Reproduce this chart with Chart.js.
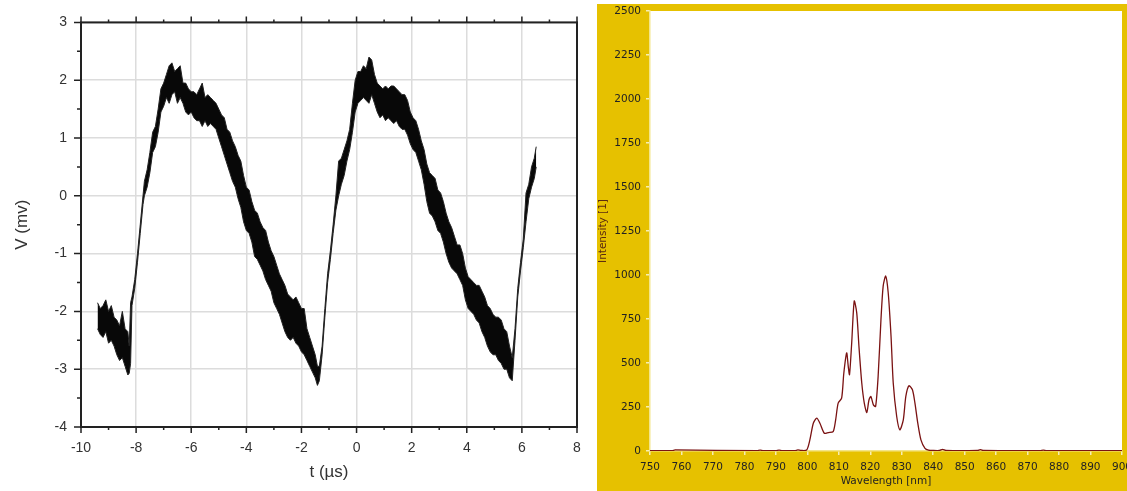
<!DOCTYPE html>
<html>
<head>
<meta charset="utf-8">
<script src="https://cdn.jsdelivr.net/npm/chart.js@4.4.1/dist/chart.umd.min.js"></script>
<style>
  html, body { margin: 0; padding: 0; background: #fff; }
  #left { position: absolute; left: 0; top: 0; }
  #right { position: absolute; left: 597px; top: 4px; background: #e6c100; }
</style>
</head>
<body>
<div id="left"><canvas id="osc" width="595" height="491"></canvas></div>
<div id="right"><canvas id="spec" width="530" height="487"></canvas></div>
<script>
// left panel: scope trace, noise band read as upper / lower envelope
const tTrace = [
  -9.4, -9.3, -9.2, -9.1, -9.0, -8.9, -8.8, -8.7, -8.6, -8.5,
  -8.4, -8.3, -8.25, -8.2, -8.15, -8.05, -7.95, -7.85, -7.75, -7.7,
  -7.6, -7.5, -7.4, -7.3, -7.2, -7.1, -7.0, -6.9, -6.8, -6.7,
  -6.6, -6.5, -6.4, -6.3, -6.2, -6.1, -6.0, -5.9, -5.8, -5.7,
  -5.6, -5.5, -5.4, -5.3, -5.2, -5.1, -5.0, -4.9, -4.8, -4.7,
  -4.6, -4.5, -4.4, -4.3, -4.2, -4.1, -4.0, -3.9, -3.8, -3.7,
  -3.6, -3.5, -3.4, -3.3, -3.2, -3.1, -3.0, -2.9, -2.8, -2.7,
  -2.6, -2.5, -2.4, -2.3, -2.2, -2.1, -2.0, -1.9, -1.8, -1.7,
  -1.6, -1.5, -1.42, -1.35, -1.25, -1.15, -1.05, -0.95, -0.85, -0.75,
  -0.65, -0.55, -0.45, -0.35, -0.25, -0.15, -0.05, 0.05, 0.15, 0.25,
  0.35, 0.45, 0.55, 0.65, 0.75, 0.85, 0.95, 1.05, 1.15, 1.25,
  1.35, 1.45, 1.55, 1.65, 1.75, 1.85, 1.95, 2.05, 2.15, 2.25,
  2.35, 2.45, 2.55, 2.65, 2.75, 2.85, 2.95, 3.05, 3.15, 3.25,
  3.35, 3.45, 3.55, 3.65, 3.75, 3.85, 3.95, 4.05, 4.15, 4.25,
  4.35, 4.45, 4.55, 4.65, 4.75, 4.85, 4.95, 5.05, 5.15, 5.25,
  5.35, 5.45, 5.55, 5.65, 5.75, 5.85, 5.95, 6.05, 6.15, 6.25,
  6.35, 6.45, 6.52
];
const vUpper = [
  -1.85, -1.95, -1.9, -1.8, -2.0, -1.9, -2.1, -2.15, -2.25, -2.0,
  -2.3, -2.35, -2.6, -1.85, -1.75, -1.45, -1.0, -0.5, 0.0, 0.25,
  0.45, 0.75, 1.1, 1.2, 1.5, 1.85, 1.95, 2.1, 2.25, 2.3,
  2.15, 2.2, 2.25, 1.95, 1.95, 1.85, 1.8, 1.8, 1.75, 1.85,
  1.95, 1.7, 1.75, 1.7, 1.65, 1.6, 1.5, 1.4, 1.35, 1.15,
  1.1, 0.95, 0.85, 0.7, 0.6, 0.35, 0.15, 0.1, -0.1, -0.25,
  -0.3, -0.45, -0.55, -0.6, -0.8, -0.95, -1.05, -1.2, -1.35, -1.45,
  -1.55, -1.7, -1.75, -1.8, -1.75, -1.85, -1.95, -1.95, -2.3, -2.45,
  -2.6, -2.75, -2.95, -2.95, -2.6, -1.95, -1.35, -0.95, -0.5, 0.0,
  0.6, 0.65, 0.8, 0.95, 1.15, 1.6, 2.0, 2.15, 2.15, 2.25,
  2.2, 2.4, 2.35, 2.1, 1.95, 1.9, 1.85, 1.9, 1.85, 1.9,
  1.9, 1.85, 1.8, 1.75, 1.75, 1.65, 1.45, 1.35, 1.3, 1.15,
  0.95, 0.8, 0.55, 0.4, 0.35, 0.3, 0.1, 0.05, -0.1, -0.3,
  -0.45, -0.55, -0.7, -0.85, -0.85, -1.0, -1.25, -1.4, -1.45, -1.5,
  -1.55, -1.55, -1.65, -1.75, -1.9, -1.95, -2.05, -2.1, -2.1, -2.15,
  -2.3, -2.35, -2.6, -2.8, -2.3, -1.6, -1.15, -0.75, 0.05, 0.2,
  0.5, 0.65, 0.85
];
const vLower = [
  -2.3, -2.4, -2.45, -2.35, -2.55, -2.5, -2.6, -2.75, -2.85, -2.8,
  -2.95, -3.1, -3.07, -2.9, -1.9, -1.6, -1.15, -0.65, -0.15, 0.0,
  0.15, 0.4, 0.75, 0.85, 1.1, 1.45, 1.55, 1.7, 1.6, 1.75,
  1.8, 1.6, 1.7, 1.6, 1.45, 1.4, 1.45, 1.35, 1.3, 1.3,
  1.2, 1.3, 1.2, 1.25, 1.2, 1.15, 1.0, 0.85, 0.7, 0.55,
  0.4, 0.25, 0.15, -0.05, -0.2, -0.45, -0.6, -0.65, -0.8, -1.05,
  -1.1, -1.2, -1.3, -1.45, -1.55, -1.65, -1.85, -1.95, -2.05, -2.2,
  -2.35, -2.45, -2.5, -2.45, -2.55, -2.6, -2.7, -2.75, -2.85, -2.95,
  -3.05, -3.15, -3.28, -3.2, -2.75, -2.1, -1.5, -1.1, -0.65, -0.25,
  0.0, 0.2, 0.35, 0.6, 0.8, 1.1, 1.45, 1.6, 1.65, 1.7,
  1.65, 1.6, 1.75, 1.6, 1.45, 1.35, 1.4, 1.3, 1.35, 1.3,
  1.25, 1.3, 1.2, 1.15, 1.15, 1.05, 0.9, 0.8, 0.75, 0.6,
  0.45, 0.2, -0.1, -0.3, -0.35, -0.45, -0.6, -0.65, -0.8, -1.0,
  -1.15, -1.25, -1.3, -1.35, -1.45, -1.55, -1.8, -1.95, -2.0, -2.05,
  -2.15, -2.2, -2.35, -2.45, -2.6, -2.7, -2.75, -2.75, -2.85, -2.9,
  -3.0, -3.0, -3.15, -3.2, -2.5, -1.75, -1.3, -0.9, -0.45, -0.05,
  0.15, 0.3, 0.5
];
const tTicks = [-10, -8, -6, -4, -2, 0, 2, 4, 6, 8];
const vTicks = [-4, -3, -2, -1, 0, 1, 2, 3];

// right panel: spectrum
const wavelength = [
  750, 757, 758, 784, 785, 786, 790, 791, 792, 796, 797, 798,
  799.8, 800.8, 801.9, 803.0, 804.0, 805.4, 806.7, 808.2, 809.0, 809.8,
  810.9, 811.6, 812.5, 813.0, 813.4, 814.1, 814.9, 815.7, 816.4, 817.3,
  818.1, 818.9, 819.6, 820.2, 821.0, 821.7, 822.5, 823.4, 824.1, 824.9,
  825.7, 826.6, 827.3, 828.4, 829.4, 830.5, 831.3, 832.3, 833.4, 834.2,
  835.1, 836.1, 837.4, 838.5, 840, 842, 843, 844, 854, 855, 856,
  874, 875, 876, 900
];
const intensity = [
  2, 2, 6, 2, 5, 2, 2, 5, 2, 2, 6, 3,
  6, 63, 158, 187, 158, 101, 105, 110, 177, 272,
  300, 443, 557, 481, 434, 614, 852, 785, 595, 386,
  272, 219, 291, 310, 262, 253, 424, 747, 937, 994,
  899, 652, 386, 196, 120, 177, 310, 371, 348, 272,
  158, 63, 15, 5, 3, 3, 9, 3, 3, 8, 3,
  2, 5, 2, 2
];

const sans = "'Liberation Sans', Arial, sans-serif";
const tahoma = "'DejaVu Sans', Verdana, sans-serif";

// frame + major/minor ticks for the scope plot
const scopeFrame = {
  id: "scopeFrame",
  afterDatasetsDraw(chart) {
    const { ctx, chartArea: a, scales } = chart;
    const x = scales.x, y = scales.y;
    ctx.save();
    ctx.strokeStyle = "#222";
    ctx.lineWidth = 1.5;
    ctx.beginPath();
    tTicks.forEach((v, i) => {
      const px = x.getPixelForValue(v);
      ctx.moveTo(px, a.bottom); ctx.lineTo(px, a.bottom + 6);
      ctx.moveTo(px, a.top); ctx.lineTo(px, a.top - 6);
      if (i < tTicks.length - 1) {
        const mx = x.getPixelForValue((v + tTicks[i + 1]) / 2);
        ctx.moveTo(mx, a.bottom); ctx.lineTo(mx, a.bottom + 3);
        ctx.moveTo(mx, a.top); ctx.lineTo(mx, a.top - 3);
      }
    });
    vTicks.forEach((v, i) => {
      const py = y.getPixelForValue(v);
      ctx.moveTo(a.left, py); ctx.lineTo(a.left - 7, py);
      if (i < vTicks.length - 1) {
        const my = y.getPixelForValue((v + vTicks[i + 1]) / 2);
        ctx.moveTo(a.left, my); ctx.lineTo(a.left - 4, my);
      }
    });
    ctx.stroke();
    ctx.lineWidth = 2;
    ctx.strokeRect(a.left, a.top, a.right - a.left, a.bottom - a.top);
    ctx.restore();
  }
};

new Chart(document.getElementById("osc"), {
  type: "line",
  data: {
    datasets: [
      {
        data: tTrace.map((t, i) => ({ x: t, y: vUpper[i] })),
        borderColor: "#222",
        borderWidth: 1,
        pointRadius: 0,
        fill: false
      },
      {
        data: tTrace.map((t, i) => ({ x: t, y: vLower[i] })),
        borderColor: "#222",
        borderWidth: 1,
        pointRadius: 0,
        backgroundColor: "#080808",
        fill: "-1"
      }
    ]
  },
  options: {
    responsive: false,
    animation: false,
    layout: { padding: { right: 18 } },
    plugins: { legend: { display: false }, tooltip: { enabled: false } },
    scales: {
      x: {
        type: "linear", position: "bottom", min: -10, max: 8,
        afterFit: s => { s.height = 64; },
        ticks: { stepSize: 2, color: "#333", padding: 13, maxRotation: 0, autoSkip: false,
                 font: { family: sans, size: 14 } },
        grid: { color: "#dcdcdc", lineWidth: 1.5, drawTicks: false },
        border: { display: false },
        title: { display: true, text: "t (µs)", color: "#333",
                 font: { family: sans, size: 17 }, padding: { top: 0, bottom: 8 } }
      },
      xTop: {
        type: "linear", position: "top", min: -10, max: 8,
        afterFit: s => { s.height = 20; },
        ticks: { display: false },
        grid: { display: false },
        border: { display: false }
      },
      y: {
        min: -4, max: 3,
        afterFit: s => { s.width = 81; },
        ticks: { stepSize: 1, color: "#333", padding: 14, font: { family: sans, size: 14 } },
        grid: { color: "#dcdcdc", lineWidth: 1.5, drawTicks: false },
        border: { display: false },
        title: { display: true, text: "V (mv)", color: "#333",
                 font: { family: sans, size: 17 }, padding: { top: 12, bottom: 0 } }
      }
    }
  },
  plugins: [scopeFrame]
});

const whitePlot = {
  id: "whitePlot",
  beforeDraw(chart) {
    const { ctx, chartArea: a } = chart;
    ctx.save();
    ctx.fillStyle = "#fff";
    ctx.fillRect(a.left, a.top, a.right - a.left, a.bottom - a.top);
    ctx.restore();
  }
};

new Chart(document.getElementById("spec"), {
  type: "line",
  data: {
    datasets: [{
      data: wavelength.map((w, i) => ({ x: w, y: intensity[i] })),
      borderColor: "#7a1212",
      borderWidth: 1.3,
      pointRadius: 0,
      tension: 0.25,
      fill: false
    }]
  },
  options: {
    responsive: false,
    animation: false,
    layout: { padding: { top: 7, right: 5 } },
    plugins: { legend: { display: false }, tooltip: { enabled: false } },
    scales: {
      x: {
        type: "linear", min: 750, max: 900,
        afterFit: s => { s.height = 40; s.paddingLeft = 0; s.paddingRight = 0; },
        ticks: { stepSize: 10, color: "#222", padding: 6, maxRotation: 0, autoSkip: false,
                 font: { family: tahoma, size: 10.5 }, callback: v => String(v) },
        grid: { drawOnChartArea: false, tickLength: 4, color: "#f6eeb4", tickColor: "#f6eeb4", lineWidth: 1.5 },
        border: { color: "#f3e58a", width: 1.5 },
        title: { display: true, text: "Wavelength [nm]", color: "#222",
                 font: { family: tahoma, size: 10.5 }, padding: { top: 0, bottom: 3 } }
      },
      y: {
        min: 0, max: 2500,
        afterFit: s => { s.width = 53; s.paddingTop = 0; s.paddingBottom = 0; },
        ticks: { stepSize: 250, color: "#222", padding: 5, font: { family: tahoma, size: 10.5 },
                 callback: v => String(v) },
        grid: { drawOnChartArea: false, tickLength: 4, color: "#f6eeb4", tickColor: "#f6eeb4", lineWidth: 1.5 },
        border: { color: "#f3e58a", width: 1.5 },
        title: { display: true, text: "Intensity [1]", color: "#5a2a10",
                 font: { family: tahoma, size: 10.5 }, padding: { top: 0, bottom: 0 } }
      }
    }
  },
  plugins: [whitePlot]
});
</script>
</body>
</html>
